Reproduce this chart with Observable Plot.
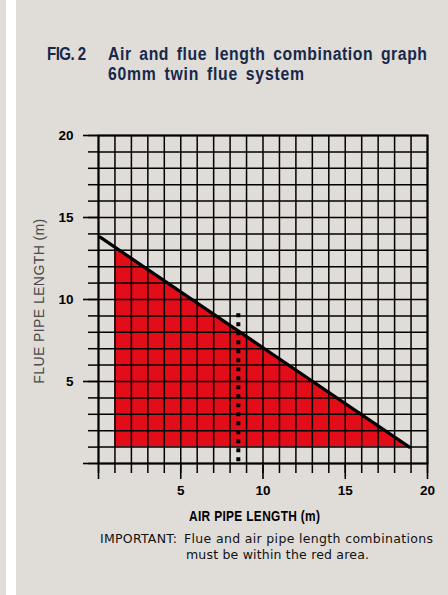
<!DOCTYPE html>
<html><head><meta charset="utf-8">
<script src="https://cdn.jsdelivr.net/npm/d3@7"></script>
<script src="https://cdn.jsdelivr.net/npm/@observablehq/plot@0.6"></script>
<style>
html,body{margin:0;padding:0;background:#e0dcd7;}
#wrap{position:relative;width:448px;height:595px;overflow:hidden;background:#e0dcd7;}
#strip{position:absolute;left:6px;top:0;width:10px;height:595px;background:#fff;}
#wrap svg{position:absolute;left:0;top:0;}
.t{position:absolute;white-space:nowrap;line-height:1;transform-origin:0 0;}
</style></head><body><div id="wrap"><div id="strip"></div></div>
<script>
// ---- data ----
const titleLine1 = "Air and flue length combination graph";
const titleLine2 = "60mm twin flue system";
const figLabel = "FIG. 2";
const xLabel = "AIR PIPE LENGTH (m)";
const yLabel = "FLUE PIPE LENGTH (m)";
const noteHead = "IMPORTANT:";
const noteLine1 = "Flue and air pipe length combinations";
const noteLine2 = "must be within the red area.";

const xDomain = [0, 20];
const yDomain = [0, 20];
const xMajorTicks = [0, 5, 10, 15, 20];
const yMajorTicks = [0, 5, 10, 15, 20];
const minorTicks = d3.range(0, 21);

// boundary line (air length, flue length)
const limitX = [0.1, 18.9];
const limitY = [13.8, 1.0];
// red permitted area
const redX = [1, 18.8];
const redTop = [13.2, 1.0];
const redBase = 1;
// dotted marker
const markerX = 8.5;
const markerY = [0.1, 9.3];

// ---- chart ----
const wrap = document.getElementById("wrap");
const limitData = limitX.map((x, i) => ({x, y: limitY[i]}));
const redData = redX.map((x, i) => ({x, y1: redBase, y2: redTop[i]}));

const chart = Plot.plot({
  width: 448, height: 595,
  marginLeft: 98, marginRight: 21, marginTop: 135, marginBottom: 132,
  x: {domain: xDomain, axis: null},
  y: {domain: yDomain, axis: null},
  style: {background: "transparent", color: "#000", fontFamily: "'Liberation Sans', Arial, sans-serif", fontSize: "13.5px", fontWeight: "bold", overflow: "visible"},
  marks: [
    Plot.areaY(redData, {x: "x", y1: "y1", y2: "y2", fill: "#e20d19"}),
    Plot.gridX({ticks: minorTicks, stroke: "#000", strokeOpacity: 1, strokeWidth: 1.5}),
    Plot.gridY({ticks: minorTicks, stroke: "#000", strokeOpacity: 1, strokeWidth: 1.5}),
    Plot.frame({stroke: "#000", strokeWidth: 2}),
    Plot.axisY({ticks: minorTicks, tickSize: 10, tickFormat: () => "", stroke: "#000", strokeWidth: 1.5, label: null}),
    Plot.axisY({ticks: yMajorTicks, tickSize: 15, tickPadding: 10, tickFormat: d => d === 0 ? "" : d, stroke: "#000", strokeWidth: 1.6, label: null}),
    Plot.axisX({ticks: minorTicks, tickSize: 10, tickFormat: () => "", stroke: "#000", strokeWidth: 1.5, label: null}),
    Plot.axisX({ticks: xMajorTicks, tickSize: 16, tickPadding: 6, tickFormat: d => d === 0 ? "" : d, stroke: "#000", strokeWidth: 1.6, label: null}),
    Plot.line(limitData, {x: "x", y: "y", stroke: "#000", strokeWidth: 3.2}),
    Plot.ruleX([markerX], {y1: markerY[0], y2: markerY[1], stroke: "#000", strokeWidth: 4, strokeDasharray: "4,5"})
  ]
});
wrap.appendChild(chart);

// ---- text ----
function addText(txt, o) {
  const s = document.createElement("div");
  s.className = "t";
  s.textContent = txt;
  s.style.font = `${o.weight || "normal"} ${o.size}px ${o.family || "'Liberation Sans', Arial, sans-serif"}`;
  s.style.color = o.color || "#000";
  if (o.wordSpacing) s.style.wordSpacing = o.wordSpacing + "px";
  wrap.appendChild(s);
  const k = o.scale || 1;
  if (o.width) {
    const w = s.getBoundingClientRect().width;
    s.style.letterSpacing = ((o.width / k - w) / (txt.length - 1)) + "px";
  }
  if (k !== 1) s.style.transform = `scaleX(${k})`;
  const asc = o.asc || 0.8465;
  s.style.left = o.x + "px";
  s.style.top = (o.base - asc * o.size) + "px";
  return s;
}
const navy = "#17284a";
const lib = "'Liberation Sans', Arial, sans-serif";
addText(figLabel, {x: 47, base: 58.5, size: 17.5, weight: "bold", color: navy, width: 39, scale: 0.86});
addText(titleLine1, {x: 108, base: 58.5, size: 17.5, weight: "bold", color: navy, width: 319, scale: 0.9, wordSpacing: 3});
addText(titleLine2, {x: 108, base: 79, size: 17.5, weight: "bold", color: navy, width: 196, scale: 0.9, wordSpacing: 3});

addText(xLabel, {x: 189, base: 520.5, size: 14.5, weight: "bold", color: "#000", width: 131, scale: 0.82});

const dj = "'DejaVu Sans', sans-serif";
const djAsc = 0.928 + (1 - 1.164) / 2;
addText(noteHead, {x: 100, base: 541.5, size: 12.5, color: "#111", width: 77, family: dj, asc: djAsc});
addText(noteLine1, {x: 184, base: 541.5, size: 12.5, color: "#111", width: 249, family: dj, asc: djAsc});
addText(noteLine2, {x: 186, base: 557.5, size: 12.5, color: "#111", width: 183, family: dj, asc: djAsc});

// rotated y label
const yl = document.createElement("div");
yl.className = "t";
yl.textContent = yLabel;
yl.style.font = "normal 14px " + lib;
yl.style.color = "#4a4a4a";
wrap.appendChild(yl);
{
  const w0 = yl.getBoundingClientRect().width;
  yl.style.letterSpacing = ((165 - w0) / (yLabel.length - 1)) + "px";
  const r = yl.getBoundingClientRect();
  const cx = 38.5, cy = 300.5;
  yl.style.left = (cx - r.width / 2) + "px";
  yl.style.top = (cy - r.height / 2) + "px";
  yl.style.transformOrigin = "50% 50%";
  yl.style.transform = "rotate(-90deg)";
}
</script></body></html>
